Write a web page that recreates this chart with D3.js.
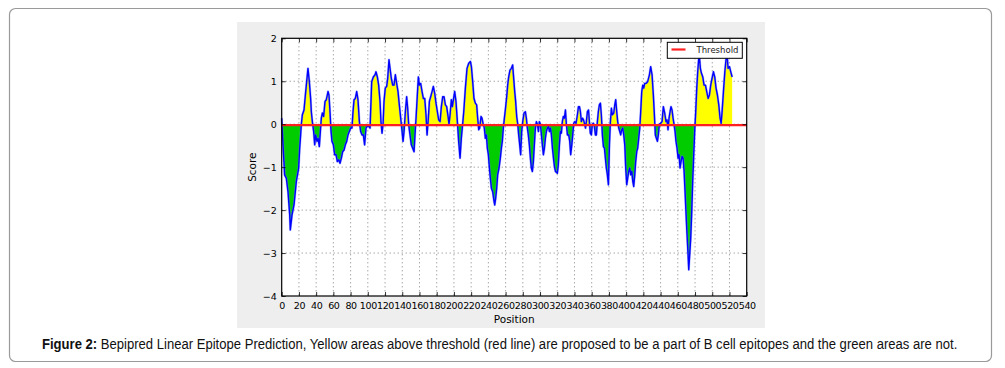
<!DOCTYPE html>
<html>
<head>
<meta charset="utf-8">
<script src="https://cdn.jsdelivr.net/npm/d3@7"></script>
<style>
  html, body { margin: 0; padding: 0; background: #fff; }
  svg { display: block; }
</style>
</head>
<body>
<svg id="chart" width="1005" height="368"></svg>
<script>
// Bepipred score (residue position / score)
const positions = [
  0, 1.5, 3.4, 5.4, 7.3, 9.3, 10, 12, 14.3, 17, 19.7, 20.9, 22, 22.8, 24, 25.9, 27.5, 29, 30.5, 32.1,
  33.6, 34.4, 35.6, 37.1, 38.3, 39.4, 41, 42.2, 43.7, 44.9, 46, 47.2, 48.7, 50.3, 51.8, 53.8, 54.9, 56.1,
  57.3, 58.4, 60, 61.5, 63.1, 64.6, 66.2, 67.7, 69.3, 70.8, 72.4, 73.9, 75.5, 77, 78.5, 80.1, 81.6, 82.8,
  84, 85.5, 87.1, 88.6, 90.2, 91.7, 93.3, 94.8, 96.3, 97.9, 100.2,
  102.6, 104.5, 106.4, 108.4, 109.5, 111.1, 112.6, 114.2, 115.3, 116.5, 117.7, 118.8, 120.3, 121.9, 123.1,
  124.6, 125.8, 127.3, 128.9, 130.4, 132, 133.5, 135.1, 136.6, 138.2, 139.8, 140.9, 142.1, 143.6, 145.1,
  146.3, 147.5, 149, 150.5, 152.1, 153.7, 154.8, 156, 157.5, 158.7, 159.9, 161.4, 163, 164.5, 166.1, 167.6,
  168.8, 170, 171.5, 173, 174.6, 176.1, 177.7, 179.2, 180.8, 182.3, 183.9, 185.4, 187, 188.5, 190.1, 191.6,
  193.2, 194.3, 195.5, 197, 198.2, 199.4, 200.9, 202.4, 204, 205.5, 207.1, 208.6, 210.2,
  211.4, 213.3, 215.2, 217.2, 219.1, 220.3, 221.8, 223.3, 224.9, 226.4, 227.6, 228.8, 229.9, 231.5, 232.6,
  233.8, 235.3, 236.5, 237.7, 238.8, 240, 241.2, 242.3, 243.5, 245, 246.6, 247.4, 248.5, 249.7, 250.8,
  252.4, 253.9, 255.1, 256.2, 257.4, 258.6, 259.7, 261.3, 262.4, 263.6, 265.1, 266.7, 268.2, 269.4, 270.6,
  271.7, 272.9, 274.1, 275.2, 276.4, 277.5, 278.7, 279.9, 281.4, 283, 284.1, 285.3, 286.4, 287.6, 288.8,
  289.9, 291.1, 292.3, 293.4, 294.6, 295.8, 296.9, 298.1, 299.2, 300.4, 301.6, 302.7, 303.9, 305.1, 306.2,
  307.4, 308.6, 309.7, 310.9, 312.1, 313.2, 314.4, 315.6, 316.7, 317.9,
  320.1, 321.2, 322.5, 323.6, 324.8, 325.9, 327.1, 328.3, 329.5, 330.6, 331.8, 333.3, 334.5, 335.6, 336.9,
  338, 339.1, 340.3, 341.8, 343.4, 344.6, 345.8, 346.9, 348, 349.3, 350.5, 351.6, 352.8, 353.8, 355, 356.3,
  357.3, 358.4, 359.6, 360.8, 361.9, 363.1, 364.3, 365.4, 366.6, 367.7, 368.9, 370.1, 371.2, 372.4, 373.6,
  374.8, 375.9, 377, 378.2, 379.4, 380.6, 381.7, 382.9, 384, 385.6, 386.8, 387.9, 389.1, 390.2, 391.4,
  392.6, 393.7, 394.9, 396, 397.2, 398.4, 399.5, 400.7, 401.8, 403, 404.2, 405.3, 406.5, 407.7, 408.8,
  410, 411.1, 412.3, 413.4, 414.6, 415.8, 416.9, 418.1, 419.3, 420.4, 421.6,
  423.1, 425, 427, 428.5, 430.1, 431.6, 432.8, 433.9, 435.1, 436.3, 437.4, 438.6, 440.1, 441.7, 443.2,
  444.8, 446.3, 447.5, 448.6, 449.8, 451, 452.1, 453.3, 454.5, 455.6, 456.8, 457.9, 459.1, 460.3, 461.4,
  462.6, 463.8, 464.9, 466.1, 467.3, 468.4, 469.6, 470.7, 471.9, 472.7, 473.8, 475, 476.2, 477.3, 478.5,
  479.6, 480.8, 482, 483.1, 484.3, 485, 486.2, 487.4, 489, 490.5, 492.1, 493.6, 495.2, 496.7, 498.2,
  499.8, 501.4, 502.9, 504.4, 506, 507.6, 509.1, 510.3, 511.4, 513, 514.6, 516.1, 517.3, 518.4, 520,
  521.5, 523.1
]
const scores = [
  0.14, -0.48, -1.18, -1.26, -1.57, -2.11, -2.46, -2.11, -1.88, -1.33, -1.02, -0.56, -0.25, 0, 0.22, 0.33, 0.68, 0.99, 1.3, 0.99,
  0.6, 0.29, 0.06, -0.17, -0.48, -0.25, -0.4, -0.33, -0.52, -0.17, 0.14, 0.26, 0.18, 0.53, 0.57, 0.76, 0.68, 0.29,
  -0.17, -0.4, -0.48, -0.71, -0.71, -0.87, -0.83, -0.91, -0.79, -0.64, -0.6, -0.48, -0.4, -0.25, -0.17, -0.09, -0.09, 0.29,
  0.57, 0.6, 0.76, 0.57, 0.06, -0.17, -0.25, -0.25, -0.48, -0.09, -0.02,
  -0.09, 0.99, 1.1, 1.15, 1.22, 1.1, 0.91, 0.53, 0.06, -0.21, 0, 0.53, 0.84, 0.88, 1.07,
  1.5, 1.3, 1.07, 0.91, 0.91, 1.15, 0.95, 0.76, 0.45, 0.14, -0.17, -0.4, -0.17, 0.29, 0.64,
  0.37, -0.02, -0.25, -0.48, -0.56, -0.64, -0.25, 0.14, 0.68, 1.1, 0.91, 0.95, 0.76, 0.6, 0.6, 0.22,
  -0.25, 0.06, 0.53, 0.64, 0.76, 0.88, 0.72, 0.49, 0.29, 0.1, 0.06, 0.41, 0.64, 0.64, 0.45, 0.41,
  0.18, 0, 0.22, 0.57, 0.41, 0.57, 0.76, 0.53, 0.06, -0.4, -0.79, -0.33, 0.02,
  0.29, 0.84, 1.3, 1.42, 1.46, 1.34, 0.99, 0.6, 0.49, 0.45, 0.14, -0.13, -0.09, 0.18, 0.14,
  0.02, -0.09, -0.33, -0.25, -0.56, -0.71, -1.02, -1.26, -1.49, -1.57, -1.8, -1.88, -1.72, -1.49, -1.18,
  -1.02, -0.79, -0.56, -0.4, -0.09, 0.14, 0.33, 0.64, 0.91, 1.1, 1.26, 1.3, 1.38, 1.07, 0.76,
  0.53, 0.18, 0, -0.25, -0.48, -0.71, -0.17, 0.06, 0.26, 0.29, 0.14, -0.09, -0.25, -0.48, -0.79,
  -1.02, -1.1, -0.87, -0.48, -0.09, 0.06, 0, -0.17, 0.06, 0, -0.25, -0.48, -0.71, -0.56, -0.33,
  -0.17, -0.09, -0.05, -0.17, -0.09, -0.25, -0.56, -0.79, -0.98, -1.1,
  -1.14, -0.95, -0.48, -0.17, -0.21, 0.06, 0.18, 0.14, 0.33, 0, -0.25, -0.25, -0.4, -0.71, -0.48,
  -0.25, 0.02, 0.06, 0.02, 0.22, 0.41, 0.41, 0.29, 0.06, 0.14, 0.1, 0.02, -0.09, 0.06, 0.29, 0.33,
  0.06, -0.21, -0.25, 0, 0.02, -0.05, -0.25, -0.25, 0.06, 0.29, 0.45, 0.49, 0.22, -0.25, -0.52,
  -0.56, -0.79, -1.02, -1.18, -1.41, -0.48, 0.06, 0.37, 0.22, 0.26, 0.45, 0.57, 0.29, 0.06, -0.09,
  -0.17, -0.25, -0.13, -0.09, -0.25, -0.48, -1.02, -1.41, -1.26, -1.1, -1.02, -1.18, -1.1, -1.33, -1.45,
  -1.18, -0.87, -0.64, -0.56, -0.33, -0.09, 0.29, 0.76, 0.91, 0.84, 0.95,
  0.95, 0.99, 1.15, 1.34, 1.15, 0.68, 0.22, -0.25, -0.33, -0.4, -0.25, 0, 0.02, 0.06, 0.41,
  0.26, 0.06, 0.1, -0.13, 0.14, 0.29, 0.41, 0.33, 0.14, 0, -0.17, -0.4, -0.56, -0.79, -0.71,
  -1.02, -0.87, -0.75, -0.79, -1.1, -1.57, -2.11, -2.57, -3.04, -3.39, -3.04, -2.65, -2.03, -1.33, -0.71,
  -0.17, 0.29, 0.84, 1.22, 1.53, 1.6, 1.3, 1.19, 1.1, 0.91, 0.91, 0.76, 0.6, 0.68, 0.91,
  1.07, 1.22, 1.1, 0.84, 0.68, 0.45, 0.14, 0.02, 0.29, 0.76, 1.22, 1.53, 1.6, 1.3, 1.34,
  1.22, 1.1
]
const threshold = -0.02
const xTicks = d3.range(0, 541, 20)
const yTicks = [-4, -3, -2, -1, 0, 1, 2]
const caption = 'Bepipred Linear Epitope Prediction, Yellow areas above threshold (red line) are proposed to be a part of B cell epitopes and the green areas are not.'

const svg = d3.select('#chart')

// outer frame and figure background
svg.append('rect')
  .attr('x', 9.5).attr('y', 8.5).attr('width', 982).attr('height', 353)
  .attr('rx', 6).attr('fill', '#fff').attr('stroke', '#9a9a9a').attr('stroke-width', 1.2)
svg.append('rect')
  .attr('x', 237).attr('y', 22).attr('width', 528).attr('height', 306)
  .attr('fill', '#eeeeee')

const plot = { left: 281.7, right: 746.7, top: 38.3, bottom: 296 }
const x = d3.scaleLinear().domain([0, 540]).range([plot.left, plot.right])
const y = d3.scaleLinear().domain([-4, 2]).range([plot.bottom, plot.top])

svg.append('rect')
  .attr('x', plot.left).attr('y', plot.top)
  .attr('width', plot.right - plot.left).attr('height', plot.bottom - plot.top)
  .attr('fill', '#fff')

// grid
const grid = svg.append('g').attr('stroke', '#000').attr('stroke-width', 0.7)
  .attr('stroke-dasharray', '1,3').attr('opacity', 0.7)
grid.selectAll('line.gx').data(xTicks.slice(1, -1)).enter().append('line')
  .attr('x1', d => x(d)).attr('x2', d => x(d)).attr('y1', plot.top).attr('y2', plot.bottom)
grid.selectAll('line.gy').data(yTicks.slice(1, -1)).enter().append('line')
  .attr('y1', d => y(d)).attr('y2', d => y(d)).attr('x1', plot.left).attr('x2', plot.right)

const data = positions.map((p, i) => ({ p, s: scores[i] }))

// clip regions above / below the threshold
const defs = svg.append('defs')
defs.append('clipPath').attr('id', 'above').append('rect')
  .attr('x', plot.left).attr('y', plot.top)
  .attr('width', plot.right - plot.left).attr('height', y(threshold) - plot.top)
defs.append('clipPath').attr('id', 'below').append('rect')
  .attr('x', plot.left).attr('y', y(threshold))
  .attr('width', plot.right - plot.left).attr('height', plot.bottom - y(threshold))

const area = d3.area()
  .x(d => x(d.p))
  .y0(y(threshold))
  .y1(d => y(d.s))

svg.append('path').datum(data)
  .attr('d', area).attr('fill', '#ffff00').attr('clip-path', 'url(#above)')
svg.append('path').datum(data)
  .attr('d', area).attr('fill', '#00cc00').attr('clip-path', 'url(#below)')

const line = d3.line().x(d => x(d.p)).y(d => y(d.s))
// soft halo like the antialiased original, then the line itself
svg.append('path').datum(data)
  .attr('d', line).attr('fill', 'none')
  .attr('stroke', '#6f7fff').attr('stroke-width', 2.4).attr('stroke-linejoin', 'round').attr('opacity', 0.5)
svg.append('path').datum(data)
  .attr('d', line).attr('fill', 'none')
  .attr('stroke', '#0000ff').attr('stroke-width', 1.4).attr('stroke-linejoin', 'round')

// threshold line
svg.append('line')
  .attr('x1', plot.left).attr('x2', plot.right)
  .attr('y1', y(threshold)).attr('y2', y(threshold))
  .attr('stroke', '#ff2020').attr('stroke-width', 2.2)

// axes (ticks inward, on all sides like matplotlib classic)
const tickFont = 'DejaVu Sans, sans-serif'
const xAxis = svg.append('g').attr('transform', `translate(0,${plot.bottom})`)
  .call(d3.axisBottom(x).tickValues(xTicks).tickSizeInner(-4).tickSizeOuter(0).tickPadding(6))
const xAxisTop = svg.append('g').attr('transform', `translate(0,${plot.top})`)
  .call(d3.axisTop(x).tickValues(xTicks).tickSizeInner(-4).tickSizeOuter(0).tickFormat(''))
const yAxis = svg.append('g').attr('transform', `translate(${plot.left},0)`)
  .call(d3.axisLeft(y).tickValues(yTicks).tickSizeInner(-4).tickSizeOuter(0).tickPadding(5)
    .tickFormat(d => d < 0 ? '\u2212' + Math.abs(d) : d))
const yAxisRight = svg.append('g').attr('transform', `translate(${plot.right},0)`)
  .call(d3.axisRight(y).tickValues(yTicks).tickSizeInner(-4).tickSizeOuter(0).tickFormat(''))

;[xAxis, xAxisTop, yAxis, yAxisRight].forEach(a => {
  a.select('.domain').remove()
  a.selectAll('.tick line').attr('stroke', '#000').attr('stroke-width', 0.8)
  a.selectAll('.tick text').attr('font-family', tickFont).attr('font-size', 9.5).attr('fill', '#000')
})
xAxis.selectAll('.tick text').attr('letter-spacing', -0.4)

svg.append('rect')
  .attr('x', plot.left).attr('y', plot.top)
  .attr('width', plot.right - plot.left).attr('height', plot.bottom - plot.top)
  .attr('fill', 'none').attr('stroke', '#000').attr('stroke-width', 1.2)

// axis labels
svg.append('text')
  .attr('x', (plot.left + plot.right) / 2).attr('y', 323)
  .attr('text-anchor', 'middle').attr('font-family', tickFont).attr('font-size', 10.5)
  .text('Position')
svg.append('text')
  .attr('transform', `translate(256,${(plot.top + plot.bottom) / 2}) rotate(-90)`)
  .attr('text-anchor', 'middle').attr('font-family', tickFont).attr('font-size', 10.5)
  .text('Score')

// legend
const legend = svg.append('g')
legend.append('rect')
  .attr('x', 667.3).attr('y', 42.3).attr('width', 75).attr('height', 16)
  .attr('fill', '#fff').attr('stroke', '#000').attr('stroke-width', 1)
legend.append('line')
  .attr('x1', 671.5).attr('x2', 685.5).attr('y1', 49.5).attr('y2', 49.5)
  .attr('stroke', '#ff2020').attr('stroke-width', 2.2)
legend.append('text')
  .attr('x', 696.5).attr('y', 53.3)
  .attr('font-family', tickFont).attr('font-size', 8.5).attr('fill', '#222')
  .text('Threshold')

// caption: condensed like Arial Narrow, by squeezing the text horizontally
const capWidth = 916
const capG = svg.append('g')
const cap = capG.append('text')
  .attr('x', 0).attr('y', 0)
  .attr('font-family', '"Liberation Sans", Arial, sans-serif')
  .attr('font-size', 14.5).attr('fill', '#111')
cap.append('tspan').attr('font-weight', 'bold').text('Figure 2: ')
cap.append('tspan').text(caption)
const natural = cap.node().getComputedTextLength()
capG.attr('transform', `translate(42,349) scale(${capWidth / natural},1)`)
</script>
</body>
</html>
